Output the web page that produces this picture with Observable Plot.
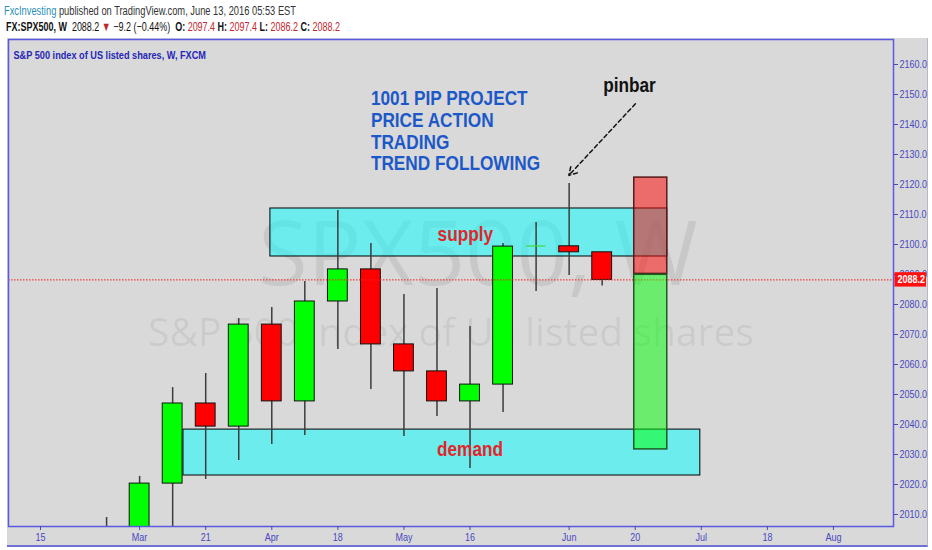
<!DOCTYPE html>
<html>
<head>
<meta charset="utf-8">
<script src="https://cdn.jsdelivr.net/npm/d3@7"></script>
<script src="https://cdn.jsdelivr.net/npm/@observablehq/plot@0.6"></script>
<style>
  body { margin: 0; background: #fff; width: 932px; height: 550px; overflow: hidden; position: relative;
         font-family: "Liberation Sans", Arial, sans-serif; }
  .hd { position: absolute; white-space: nowrap; font-size: 12.5px; line-height: 14px; transform-origin: 0 0; }
  #l1 { left: 4px; top: 4px; color: #333; }
  #l1 b { font-weight: normal; color: #2a8fb8; }
  #l2 { left: 6px; top: 20px; color: #111; }
  #l2 .k { font-weight: bold; }
  #l2 .r { color: #c0282d; }
  #pane { position: absolute; left: 7px; top: 38px; width: 920px; height: 507px; background: #d9d9d9;
          border-bottom: 2px solid #7070d8; border-right: 1px solid #b8b8c8; }
  #chart { position: absolute; left: 0; top: 38px; }
</style>
</head>
<body>
<div class="hd" id="l1"><b>FxcInvesting</b> published on TradingView.com, June 13, 2016 05:53 EST</div>
<div class="hd" id="l2"><span class="k">FX:SPX500, W</span>&nbsp; 2088.2 <span class="r">&#9660;</span> &minus;9.2 (&minus;0.44%) &nbsp;<span class="k">O:</span> <span class="r">2097.4</span> <span class="k">H:</span> <span class="r">2097.4</span> <span class="k">L:</span> <span class="r">2086.2</span> <span class="k">C:</span> <span class="r">2088.2</span></div>
<div id="pane"></div>
<div id="chart"></div>
<script>
// weekly bars FX:SPX500
var weeks = ["2016-02-29","2016-03-07","2016-03-14","2016-03-21","2016-03-28","2016-04-04","2016-04-11","2016-04-18",
             "2016-04-25","2016-05-02","2016-05-09","2016-05-16","2016-05-23","2016-05-30","2016-06-06","2016-06-13"]
var open  = [1937.0, 1996.0, 2020.3, 2047.0, 2039.3, 2073.3, 2047.7, 2081.0, 2091.7, 2066.7, 2057.7, 2047.7, 2053.3, 2099.2, 2099.4, 2097.4]
var high  = [2009.0, 2022.7, 2052.3, 2057.0, 2075.3, 2079.0, 2087.7, 2111.3, 2100.3, 2083.3, 2085.3, 2072.7, 2100.3, 2107.3, 2120.3, 2097.4]
var low   = [1931.0, 1969.0, 2004.0, 2021.7, 2028.0, 2033.3, 2036.3, 2065.0, 2051.7, 2036.0, 2042.7, 2025.3, 2044.0, 2084.3, 2089.7, 2086.2]
var close = [1999.0, 2020.3, 2047.0, 2039.3, 2073.3, 2047.7, 2081.0, 2091.7, 2066.7, 2057.7, 2047.7, 2053.3, 2099.3, 2099.5, 2097.4, 2088.2]

// axis ticks
var priceTicks = d3.range(2010, 2161, 10)
var timeTicks  = ["2016-02-15","2016-03-07","2016-03-21","2016-04-04","2016-04-18","2016-05-02","2016-05-16",
                  "2016-06-06","2016-06-20","2016-07-04","2016-07-18","2016-08-01"]
var timeLabels = ["15","Mar","21","Apr","18","May","16","Jun","20","Jul","18","Aug"]

// drawings
var zoneNames = ["supply", "demand"]
var zoneStart = ["2016-04-03T17:00Z", "2016-03-16T07:00Z"]
var zoneEnd   = ["2016-06-26T19:00Z", "2016-07-03T19:00Z"]
var zoneLow   = [2096.0, 2023.0]
var zoneHigh  = [2112.0, 2038.3]
var zoneLabelAt = ["2016-05-15T00:00Z", "2016-05-16T00:00Z"]
var zoneLabelPrice = [2103.3, 2031.7]

var posStart = "2016-06-19T19:00Z", posEnd = "2016-06-26T19:00Z"
var posStop = 2122.3, posEntry = 2090.2, posTarget = 2031.7

var lastClose = close[close.length - 1]

const DAY = 864e5
const t0 = Date.UTC(2016, 1, 15)
const xStart = new Date(t0 - 6.78 * DAY), xEnd = new Date(t0 + 180.72 * DAY)

let candles = weeks.map((w, i) => ({date: new Date(w), open: open[i], high: high[i], low: low[i], close: close[i]}))
let bodies = candles.filter(d => Math.abs(d.close - d.open) >= 0.5)
let dojis = candles.filter(d => Math.abs(d.close - d.open) < 0.5)
let zones = zoneNames.map((n, i) => ({name: n, start: new Date(zoneStart[i]), end: new Date(zoneEnd[i]),
  low: zoneLow[i], high: zoneHigh[i], at: new Date(zoneLabelAt[i]), price: zoneLabelPrice[i]}))
let position = [
  {start: new Date(posStart), end: new Date(posEnd), y1: posEntry, y2: posStop, fill: "#ff0000", stroke: "#5a1a1a"},
  {start: new Date(posStart), end: new Date(posEnd), y1: posTarget, y2: posEntry - 0.3, fill: "#00ff00", stroke: "#1f5a1f"}
]

const bx1 = d => new Date(+d.date - 2.1 * DAY)
const bx2 = d => new Date(+d.date + 2.1 * DAY)
const axisColor = "#4848c0"

let chart = Plot.plot({
  width: 932,
  height: 512,
  marginLeft: 8,
  marginRight: 39,
  marginTop: 1,
  marginBottom: 24,
  style: {background: "transparent", fontFamily: '"Liberation Sans", Arial, sans-serif'},
  x: {type: "utc", domain: [xStart, xEnd]},
  y: {domain: [2006, 2168.33]},
  marks: [
    // watermark
    Plot.text(["SPX500, W"], {frameAnchor: "middle", dx: 27, dy: -27, fontSize: 90, fontFamily: "Open Sans",
      fill: "#000", fillOpacity: 0.075}),
    Plot.text(["S&P 500 index of US listed shares"], {frameAnchor: "middle", dx: 0, dy: 51, fontSize: 39,
      fontFamily: "Open Sans", fill: "#000", fillOpacity: 0.075}),

    Plot.rect(zones, {x1: "start", x2: "end", y1: "low", y2: "high", fill: "#00ffff", fillOpacity: 0.5,
      stroke: "#000", strokeWidth: 1}),

    Plot.ruleX(candles, {x: "date", y1: "low", y2: "high", stroke: "#3c3c3c", strokeWidth: 1.5, clip: true}),
    Plot.rect(bodies, {x1: bx1, x2: bx2, y1: "open", y2: "close",
      fill: d => d.close >= d.open ? "#00ff00" : "#ff0000", stroke: "#111", strokeWidth: 1, clip: true}),
    Plot.ruleY(dojis, {x1: bx1, x2: bx2, y: "close", stroke: "#3cdc3c", strokeWidth: 1.2}),

    Plot.ruleY([lastClose], {stroke: "#ff1a1a", strokeWidth: 1, strokeDasharray: "1.5,1.5"}),

    Plot.rect(position, {x1: "start", x2: "end", y1: "y1", y2: "y2", fill: "fill", fillOpacity: 0.5,
      stroke: "stroke", strokeWidth: 1.5}),

    Plot.text(zones, {x: "at", y: "price", text: "name", fill: "#e3242b", fontSize: 21, fontWeight: "bold"}),
    Plot.text(["1001 PIP PROJECT\nPRICE ACTION\nTRADING\nTREND FOLLOWING"], {
      x: new Date("2016-04-25"), y: 2151.7, textAnchor: "start", lineAnchor: "top", lineHeight: 1.04,
      fill: "#1d58c8", fontSize: 21, fontWeight: "bold"}),
    Plot.text(["pinbar"], {x: new Date("2016-06-18T19:00Z"), y: 2153, fill: "#111", fontSize: 21, fontWeight: "bold"}),
    Plot.arrow([{x1: new Date("2016-06-20T01:00Z"), y1: 2146.9, x2: new Date("2016-06-05T22:00Z"), y2: 2123}], {
      x1: "x1", y1: "y1", x2: "x2", y2: "y2", stroke: "#111", strokeWidth: 1.5, strokeDasharray: "4,3",
      headLength: 9, bend: 0}),

    Plot.text(["S&P 500 index of US listed shares, W, FXCM"], {frameAnchor: "top-left", dx: 5, dy: 16,
      lineAnchor: "middle", textAnchor: "start", fill: "#2626b8", fontSize: 11.2, fontWeight: "bold"}),

    Plot.frame({stroke: "#5a5ae0", strokeWidth: 1.5}),
    Plot.axisY({anchor: "right", ticks: priceTicks, tickFormat: d => d.toFixed(1), tickSize: 4, tickPadding: 2,
      fontSize: 11, color: axisColor, label: null}),
    Plot.axisX({ticks: timeTicks.map(d => new Date(d)), tickFormat: (d, i) => timeLabels[i], tickSize: 4,
      tickPadding: 3, fontSize: 11, color: axisColor, label: null}),

    // last price marker on the scale
    Plot.rect([lastClose], {x1: new Date(+xEnd + 0.3 * DAY), x2: new Date(+xEnd + 7 * DAY),
      y1: d => d - 2.4, y2: d => d + 2.4, fill: "#ff1010"}),
    Plot.text([lastClose], {x: xEnd, y: d => d, dx: 4, textAnchor: "start", text: d => d.toFixed(1),
      fill: "#fff", fontSize: 11, fontWeight: "bold"})
  ]
})

document.getElementById("chart").append(chart)

// TradingView uses a narrow face: squeeze Liberation Sans like Arial Narrow
d3.select(chart).selectAll("text").each(function() {
  if (getComputedStyle(this).fontFamily.includes("Open Sans")) return
  let parts = this.querySelectorAll("tspan")
  let els = parts.length ? Array.from(parts) : [this]
  els.forEach(el => {
    let w = el.getComputedTextLength()
    if (w > 0) {
      el.setAttribute("textLength", (w * 0.82).toFixed(1))
      el.setAttribute("lengthAdjust", "spacingAndGlyphs")
    }
  })
})

// header lines fitted to their widths in the snapshot
function fit(id, target) {
  let el = document.getElementById(id)
  el.style.transform = `scaleX(${target / el.getBoundingClientRect().width})`
}
fit("l1", 292)
fit("l2", 334)
</script>
</body>
</html>
